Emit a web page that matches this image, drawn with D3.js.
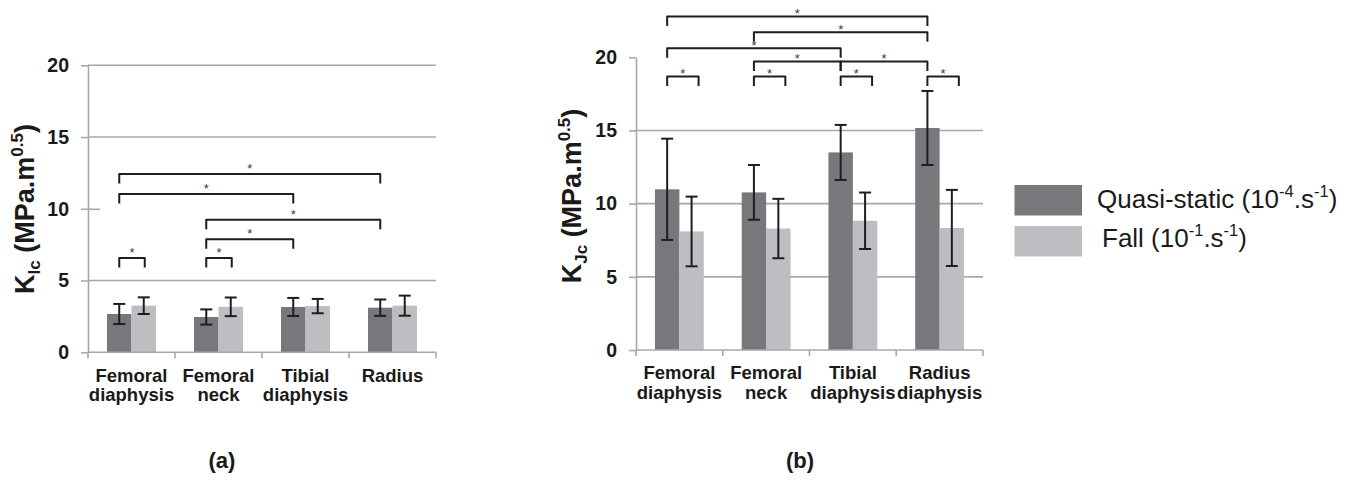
<!DOCTYPE html>
<html>
<head>
<meta charset="utf-8">
<script src="https://cdn.jsdelivr.net/npm/d3@7"></script>
<style>
  html, body { margin: 0; padding: 0; background: #fff; }
  svg { display: block; font-family: "Liberation Sans", Arial, sans-serif; }
</style>
</head>
<body>
<svg id="chart" width="1360" height="493"></svg>
<script>
// Fracture toughness of cortical bone, by anatomical site and loading rate
const series = ["Quasi-static", "Fall"];
const kicCategories = [["Femoral", "diaphysis"], ["Femoral", "neck"], ["Tibial", "diaphysis"], ["Radius"]];
const kjcCategories = [["Femoral", "diaphysis"], ["Femoral", "neck"], ["Tibial", "diaphysis"], ["Radius", "diaphysis"]];

// K_Ic (MPa.m^0.5): means and standard deviations
const kicQuasi = [2.67, 2.46, 3.16, 3.11];
const kicQuasiSD = [0.70, 0.53, 0.63, 0.57];
const kicFall = [3.25, 3.17, 3.22, 3.25];
const kicFallSD = [0.58, 0.65, 0.50, 0.70];

// K_Jc (MPa.m^0.5): means and standard deviations
const kjcQuasi = [10.98, 10.77, 13.50, 15.17];
const kjcQuasiSD = [3.46, 1.87, 1.88, 2.53];
const kjcFall = [8.10, 8.30, 8.83, 8.34];
const kjcFallSD = [2.38, 2.03, 1.93, 2.60];

const yTicks = [0, 5, 10, 15, 20];

// Significance brackets: [from category, from series, to category, to series, level]
const kicBrackets = [
  [0, 0, 3, 0, 12.43],
  [0, 0, 2, 0, 11.04],
  [1, 0, 3, 0, 9.23],
  [1, 0, 2, 0, 7.88],
  [0, 0, 0, 1, 6.58],
  [1, 0, 1, 1, 6.58]
];
const kjcBrackets = [
  [0, 0, 3, 0, 22.78],
  [1, 0, 3, 0, 21.72],
  [0, 0, 2, 0, 20.62],
  [1, 0, 2, 0, 19.71],
  [2, 0, 3, 0, 19.71],
  [0, 0, 0, 1, 18.68],
  [1, 0, 1, 1, 18.68],
  [2, 0, 2, 1, 18.68],
  [3, 0, 3, 1, 18.68]
];

const colors = { "Quasi-static": "#77787c", "Fall": "#bdbec2" };
const gridColor = "#a8a8a8";
const inkColor = "#1e1e1e";

const svg = d3.select("#chart");

function drawPanel(cfg) {
  const g = svg.append("g");
  const x0 = d3.scaleBand().domain(d3.range(cfg.categories.length)).range([cfg.left, cfg.right]).padding(0);
  const x1 = d3.scaleBand().domain(series).range([0, x0.bandwidth()]).paddingInner(0).paddingOuter(0.776);
  const y = d3.scaleLinear().domain([0, 20]).range([cfg.bottom, cfg.top]);

  const rows = cfg.categories.map((c, i) => ({
    i,
    vals: [
      { s: "Quasi-static", v: cfg.quasi[i], sd: cfg.quasiSD[i] },
      { s: "Fall", v: cfg.fall[i], sd: cfg.fallSD[i] }
    ]
  }));

  // horizontal gridlines
  g.append("g").selectAll("line")
    .data(yTicks.filter(t => t > 0 && !cfg.noGrid.includes(t)))
    .join("line")
    .attr("x1", cfg.left).attr("x2", cfg.right)
    .attr("y1", d => y(d)).attr("y2", d => y(d))
    .attr("stroke", gridColor).attr("stroke-width", 1.6);

  // y axis
  const yAxis = g.append("g")
    .attr("transform", `translate(${cfg.left},0)`)
    .call(d3.axisLeft(y).tickValues(yTicks).tickSize(7).tickPadding(12).tickSizeOuter(0));
  yAxis.select(".domain").attr("stroke", gridColor).attr("stroke-width", 1.6);
  yAxis.selectAll(".tick line").attr("stroke", gridColor).attr("stroke-width", 1.6);
  yAxis.selectAll(".tick text")
    .attr("font-family", "Liberation Sans, Arial, sans-serif")
    .attr("font-size", 19.5).attr("font-weight", "bold").attr("fill", "#1a1a1a");
  // short stubs where the gridline gives way to the brackets
  yAxis.selectAll(".tick").filter(d => cfg.stub.includes(d)).select("line")
    .attr("x1", cfg.stubLen);

  // bars
  const grp = g.append("g").selectAll("g").data(rows).join("g")
    .attr("transform", d => `translate(${x0(d.i)},0)`);
  grp.selectAll("rect").data(d => d.vals).join("rect")
    .attr("x", d => x1(d.s)).attr("width", x1.bandwidth())
    .attr("y", d => y(d.v)).attr("height", d => y(0) - y(d.v))
    .attr("fill", d => colors[d.s]);

  // error bars
  const cap = 6;
  const eb = grp.selectAll("g.err").data(d => d.vals).join("g").attr("class", "err")
    .attr("stroke", inkColor).attr("stroke-width", 2);
  eb.append("line")
    .attr("x1", d => x1(d.s) + x1.bandwidth() / 2).attr("x2", d => x1(d.s) + x1.bandwidth() / 2)
    .attr("y1", d => y(d.v + d.sd)).attr("y2", d => y(d.v - d.sd));
  eb.append("line")
    .attr("x1", d => x1(d.s) + x1.bandwidth() / 2 - cap).attr("x2", d => x1(d.s) + x1.bandwidth() / 2 + cap)
    .attr("y1", d => y(d.v + d.sd)).attr("y2", d => y(d.v + d.sd));
  eb.append("line")
    .attr("x1", d => x1(d.s) + x1.bandwidth() / 2 - cap).attr("x2", d => x1(d.s) + x1.bandwidth() / 2 + cap)
    .attr("y1", d => y(d.v - d.sd)).attr("y2", d => y(d.v - d.sd));

  // x axis with boundary ticks
  g.append("line")
    .attr("x1", cfg.left).attr("x2", cfg.right)
    .attr("y1", y(0)).attr("y2", y(0))
    .attr("stroke", gridColor).attr("stroke-width", 1.6);
  g.append("g").selectAll("line")
    .data(d3.range(cfg.categories.length + 1))
    .join("line")
    .attr("x1", d => cfg.left + d * x0.step()).attr("x2", d => cfg.left + d * x0.step())
    .attr("y1", y(0)).attr("y2", y(0) + 6)
    .attr("stroke", gridColor).attr("stroke-width", 1.6);

  // category labels
  const lab = g.append("g").selectAll("text").data(rows).join("text")
    .attr("text-anchor", "middle").attr("font-size", 18.5).attr("font-weight", "bold").attr("fill", "#1a1a1a");
  lab.selectAll("tspan").data(d => cfg.categories[d.i].map(t => ({ t, i: d.i }))).join("tspan")
    .attr("x", d => x0(d.i) + x0.bandwidth() / 2)
    .attr("y", (d, k) => cfg.labelY + k * 19.5)
    .text(d => d.t);

  // significance brackets
  const barCenter = (c, s) => x0(c) + x1(series[s]) + x1.bandwidth() / 2;
  const legLen = 9.5;
  const br = g.append("g").selectAll("g").data(cfg.brackets).join("g");
  br.append("path")
    .attr("fill", "none").attr("stroke", inkColor).attr("stroke-width", 2)
    .attr("stroke-linejoin", "round")
    .attr("d", d => {
      const xa = barCenter(d[0], d[1]);
      const xb = barCenter(d[2], d[3]) + (d[0] === d[2] ? cfg.pairNudge : 0);
      const yy = y(d[4]);
      return `M${xa},${yy + legLen}V${yy}H${xb}V${yy + legLen}`;
    });
  br.append("text")
    .attr("text-anchor", "middle").attr("font-size", 13).attr("fill", "#3a3a3a")
    .attr("x", d => (barCenter(d[0], d[1]) + barCenter(d[2], d[3]) + (d[0] === d[2] ? cfg.pairNudge : 0)) / 2)
    .attr("y", d => y(d[4]) + cfg.starDy)
    .text("*");

  // y axis title
  const t = g.append("text")
    .attr("transform", `translate(${cfg.titleX},${cfg.titleY}) rotate(-90)`)
    .attr("text-anchor", "middle").attr("font-size", 27).attr("font-weight", "bold").attr("fill", "#1a1a1a");
  t.append("tspan").text("K");
  t.append("tspan").attr("font-size", 17).attr("dy", 6).text(cfg.sub);
  t.append("tspan").attr("dy", -6).text(" (MPa.m");
  t.append("tspan").attr("font-size", 17).attr("dy", -11).text("0.5");
  t.append("tspan").attr("dy", 11).text(")");

  // panel tag
  g.append("text")
    .attr("x", cfg.tagX).attr("y", 468)
    .attr("text-anchor", "middle").attr("font-size", 22).attr("font-weight", "bold").attr("fill", "#1a1a1a")
    .text(cfg.tag);
}

drawPanel({
  categories: kicCategories, quasi: kicQuasi, quasiSD: kicQuasiSD, fall: kicFall, fallSD: kicFallSD,
  brackets: kicBrackets,
  left: 88, right: 436, top: 65.3, bottom: 352.3,
  noGrid: [10], stub: [10], stubLen: 12,
  labelY: 381.5, pairNudge: 1, starDy: -1,
  titleX: 34, titleY: 209, sub: "Ic",
  tag: "(a)", tagX: 222
});

drawPanel({
  categories: kjcCategories, quasi: kjcQuasi, quasiSD: kjcQuasiSD, fall: kjcFall, fallSD: kjcFallSD,
  brackets: kjcBrackets,
  left: 636, right: 983, top: 57.3, bottom: 350,
  noGrid: [20], stub: [], stubLen: 0,
  labelY: 379, pairNudge: 7, starDy: 1.5,
  titleX: 581, titleY: 196, sub: "Jc",
  tag: "(b)", tagX: 800
});

// legend
const legend = svg.append("g");
const legendRows = [
  { s: "Quasi-static", label: "Quasi-static (10", exp: "-4", tail: ".s", exp2: "-1", y: 185, tx: 1097, ty: 208 },
  { s: "Fall", label: "Fall (10", exp: "-1", tail: ".s", exp2: "-1", y: 226, tx: 1102, ty: 247 }
];
legendRows.forEach(r => {
  legend.append("rect").attr("x", 1014.5).attr("y", r.y).attr("width", 67.5).attr("height", 30.5).attr("fill", colors[r.s]);
  const tx = legend.append("text").attr("x", r.tx).attr("y", r.ty)
    .attr("font-size", 26).attr("fill", "#1a1a1a");
  tx.append("tspan").text(r.label);
  tx.append("tspan").attr("font-size", 16.5).attr("dy", -11).text(r.exp);
  tx.append("tspan").attr("dy", 11).text(r.tail);
  tx.append("tspan").attr("font-size", 16.5).attr("dy", -11).text(r.exp2);
  tx.append("tspan").attr("dy", 11).text(")");
});
</script>
</body>
</html>
